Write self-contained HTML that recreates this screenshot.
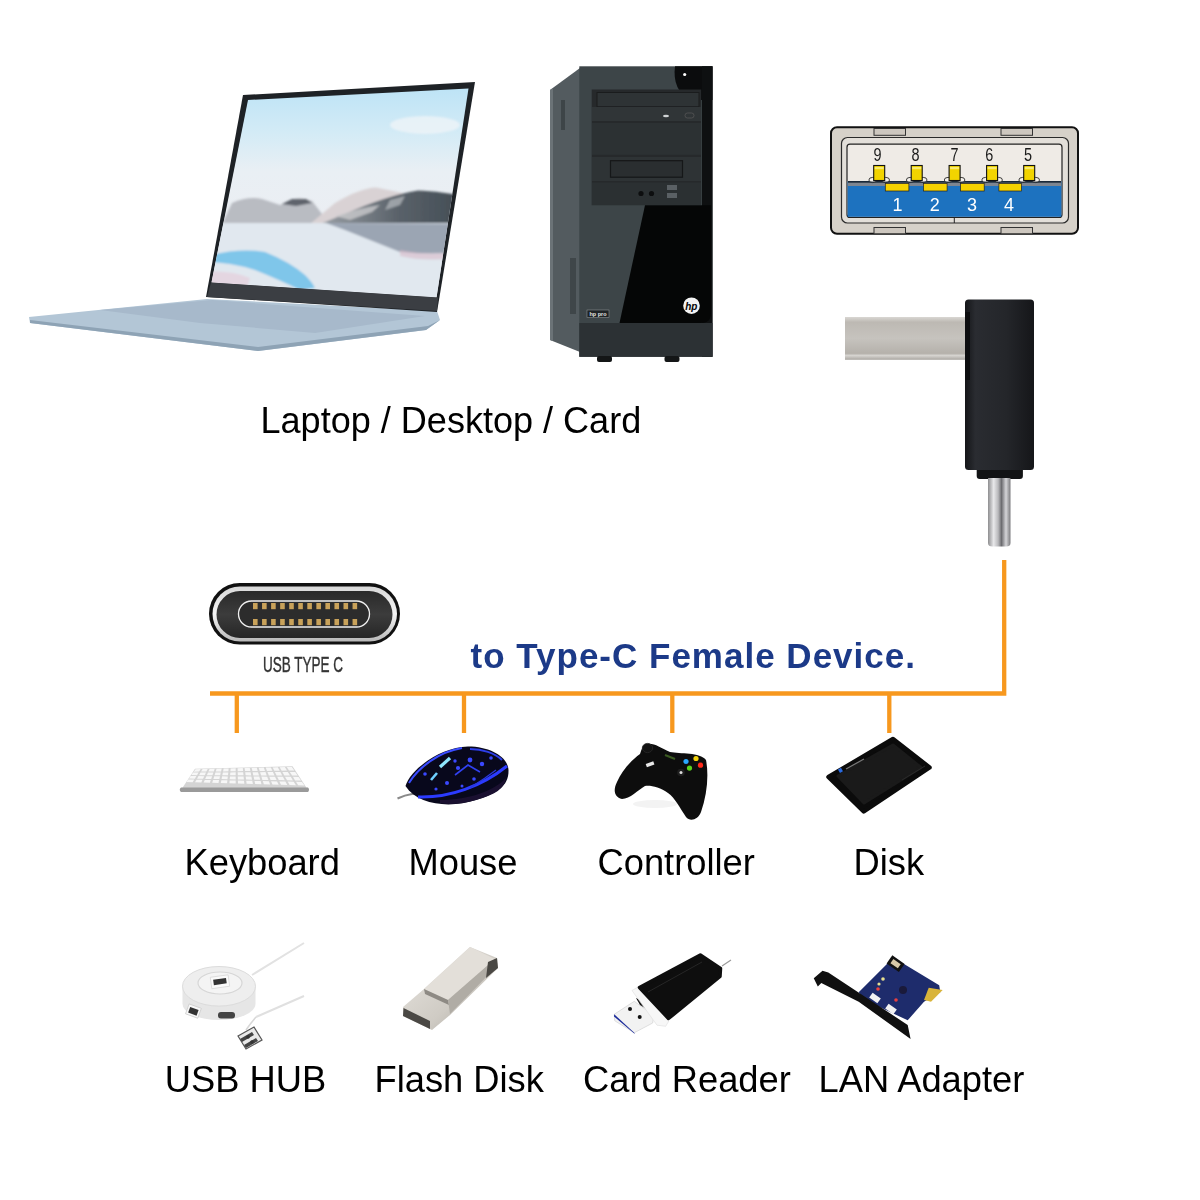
<!DOCTYPE html>
<html><head><meta charset="utf-8">
<style>
html,body{margin:0;padding:0;background:#fff;}
body{width:1200px;height:1200px;overflow:hidden;position:relative;}
svg{position:absolute;left:0;top:0;}
.lbl{font-family:"Liberation Sans",sans-serif;font-size:36.3px;fill:#000;}
</style></head>
<body>
<svg width="1200" height="1200" viewBox="0 0 1200 1200">
<defs>
  <linearGradient id="sky" x1="0" y1="0" x2="0" y2="1">
    <stop offset="0" stop-color="#a9d3ee"/>
    <stop offset="0.45" stop-color="#e9eef3"/>
    <stop offset="1" stop-color="#eef1f5"/>
  </linearGradient>

  <linearGradient id="plugSilver" x1="0" y1="0" x2="0" y2="1">
    <stop offset="0" stop-color="#d9d7d3"/>
    <stop offset="0.12" stop-color="#bdb9b3"/>
    <stop offset="0.5" stop-color="#c6c3be"/>
    <stop offset="0.85" stop-color="#b5b1ab"/>
    <stop offset="0.9" stop-color="#d6d4d0"/>
    <stop offset="1" stop-color="#a9a6a1"/>
  </linearGradient>
  <linearGradient id="adBody" x1="0" y1="0" x2="1" y2="0">
    <stop offset="0" stop-color="#141518"/>
    <stop offset="0.15" stop-color="#2a2c31"/>
    <stop offset="0.6" stop-color="#24262a"/>
    <stop offset="1" stop-color="#151619"/>
  </linearGradient>
  <linearGradient id="pinSilver" x1="0" y1="0" x2="1" y2="0">
    <stop offset="0" stop-color="#8d8d8f"/>
    <stop offset="0.25" stop-color="#e8e8ea"/>
    <stop offset="0.45" stop-color="#b9b9bc"/>
    <stop offset="0.6" stop-color="#6c6c70"/>
    <stop offset="0.8" stop-color="#d5d5d8"/>
    <stop offset="1" stop-color="#7a7a7d"/>
  </linearGradient>

  <linearGradient id="ringGrad" x1="0" y1="0" x2="0" y2="1">
    <stop offset="0" stop-color="#d8d8d8"/>
    <stop offset="0.5" stop-color="#f4f4f4"/>
    <stop offset="1" stop-color="#b8b8b8"/>
  </linearGradient>
  <linearGradient id="portDark" x1="0" y1="0" x2="0" y2="1">
    <stop offset="0" stop-color="#2a2a2a"/>
    <stop offset="0.5" stop-color="#3c3c3c"/>
    <stop offset="1" stop-color="#262626"/>
  </linearGradient>

  <linearGradient id="mouseGrad" x1="0" y1="0" x2="1" y2="1">
    <stop offset="0" stop-color="#1a1a6a"/>
    <stop offset="0.5" stop-color="#0b0b30"/>
    <stop offset="1" stop-color="#050512"/>
  </linearGradient>
  <linearGradient id="flashGrad" x1="0" y1="0" x2="1" y2="1">
    <stop offset="0" stop-color="#e9e6e1"/>
    <stop offset="0.6" stop-color="#cfcbc4"/>
    <stop offset="1" stop-color="#a6a29b"/>
  </linearGradient>

  <clipPath id="scr"><polygon points="248,100 468.5,88.5 436.5,297.5 211.5,282.5"/></clipPath>
  <linearGradient id="sky2" x1="0" y1="0" x2="0" y2="1">
    <stop offset="0" stop-color="#bce3f6"/>
    <stop offset="0.22" stop-color="#d3ebf6"/>
    <stop offset="0.4" stop-color="#e9eff4"/>
    <stop offset="1" stop-color="#efedf1"/>
  </linearGradient>
  <linearGradient id="water" x1="0" y1="0" x2="0" y2="1">
    <stop offset="0" stop-color="#dfe3e8"/>
    <stop offset="1" stop-color="#e8ecf2"/>
  </linearGradient>
  <linearGradient id="mtnDark" x1="0" y1="0" x2="1" y2="0">
    <stop offset="0" stop-color="#9aa0a6"/>
    <stop offset="0.5" stop-color="#5a626a"/>
    <stop offset="1" stop-color="#3e4850"/>
  </linearGradient>
  <filter id="blur1" x="-10%" y="-10%" width="120%" height="120%"><feGaussianBlur stdDeviation="0.9"/></filter>
  <filter id="blur05" x="-10%" y="-10%" width="120%" height="120%"><feGaussianBlur stdDeviation="0.5"/></filter>
</defs>

<!-- LAPTOP -->
<g id="laptop">
  <polygon points="29,317 207,299 437,311 440,320 426,330 258,351 30,323" fill="#b3c6d6"/>
  <polygon points="30,320 258,347 428,326 440,320 426,330 258,351 30,323" fill="#8ea3b5"/>
  <polygon points="100,310 212,300 425,316 315,333 200,323" fill="#a7b9cb"/>
  
  <polygon points="243,95 475,82 437,312 206,297" fill="#1e2226"/>
  <g clip-path="url(#scr)">
    <rect x="205" y="85" width="270" height="215" fill="url(#sky2)"/>
    <g filter="url(#blur1)">
    <ellipse cx="425" cy="125" rx="35" ry="9" fill="#eef4f8" opacity="0.8"/>
    <path d="M222 224 L232 203 Q248 196 262 199 L280 205 L290 200 Q300 196 312 201 L322 214 L330 224 Z" fill="#b9bcc2"/>
    <path d="M282 204 L292 199 L306 199 L312 203 L296 206 Z" fill="#5e646c"/>
    <path d="M310 224 L335 203 Q360 188 376 187.5 L398 192 L420 198 L330 224 Z" fill="#d9d2d4"/>
    <path d="M320 224 L345 214 Q385 196 418 190.5 Q440 191 475 198 L475 226 Z" fill="url(#mtnDark)"/>
    <path d="M335 216 Q360 208 380 205 L372 212 L350 220 Z" fill="#c9c9cc" opacity="0.8"/>
    <path d="M390 200 L405 196 L400 205 L385 210 Z" fill="#b8bcc0" opacity="0.7"/>
    <rect x="205" y="223" width="270" height="80" fill="#e1e8ef"/>
    <path d="M326 223 L475 224 L470 250 Q440 256 400 252 Q370 240 345 230 Z" fill="#8a94a4" opacity="0.8"/>
    <path d="M400 250 Q430 256 455 252 L455 258 Q425 262 400 256 Z" fill="#d9b9c8" opacity="0.6"/>
    <path d="M212 255 Q240 248 265 252 Q290 262 305 275 Q312 282 315 288 L300 290 Q280 280 255 270 Q230 262 205 262 Z" fill="#67bde9" opacity="0.8"/>
    <path d="M205 272 Q230 270 250 278 L246 292 L205 292 Z" fill="#e6cfdc" opacity="0.7"/>
    </g>
  </g>
  <polygon points="211,282.5 438,297.5 437,311 207,297" fill="#3b3e43"/>
</g>

<!-- PC -->
<g id="pc">
  <polygon points="550,90 580,68 580,352 550,340" fill="#535b5f"/>
  <polygon points="550,90 553,88 553,341 550,340" fill="#6b7377"/>
  <rect x="561" y="100" width="4" height="30" fill="#3e4548"/>
  <rect x="570" y="258" width="6" height="56" fill="#3f4649"/>
  <rect x="579.3" y="66.3" width="133.2" height="290.5" fill="#3d4548"/>
  <path d="M675 66.3 H712.5 V100 H690 Q672 90 675 66.3 Z" fill="#0b0c0d"/>
  <rect x="702" y="66.3" width="10.5" height="290.5" fill="#0e1011"/>
  <circle cx="684.7" cy="74.5" r="1.6" fill="#fff"/>
  <rect x="591.7" y="89.5" width="109.5" height="115.7" fill="#26292b"/>
  <rect x="597" y="92.5" width="102" height="14.3" fill="#2e3335" stroke="#1a1c1d" stroke-width="1"/>
  <rect x="592" y="107" width="109" height="14" fill="#303537"/>
  <ellipse cx="666" cy="116" rx="3" ry="1.2" fill="#cfd3d4"/>
  <rect x="685" y="113" width="9" height="5" rx="2.5" fill="none" stroke="#555" stroke-width="0.8"/>
  <rect x="592" y="123" width="109" height="31.8" fill="#2c3133"/>
  <rect x="592" y="157" width="109" height="24" fill="#2e3335"/>
  <rect x="610.5" y="160.7" width="72" height="16.5" fill="#2a2e30" stroke="#151718" stroke-width="1.2"/>
  <rect x="592" y="182.5" width="109" height="22.5" fill="#2b3032"/>
  <circle cx="641" cy="193.5" r="2.6" fill="#0d0e0f"/>
  <circle cx="651.5" cy="193.5" r="2.6" fill="#0d0e0f"/>
  <rect x="667" y="185" width="10" height="5" fill="#5a6064"/>
  <rect x="667" y="193" width="10" height="5" fill="#5a6064"/>
  <path d="M645 205.3 H711 V313 Q711 323 701 323 H619.5 Z" fill="#050606"/>
  <rect x="579.3" y="323" width="133.2" height="33.8" fill="#2c3134"/>
  <rect x="597" y="356" width="15" height="6" rx="2" fill="#141617"/>
  <rect x="664.5" y="356" width="15" height="6" rx="2" fill="#141617"/>
  <circle cx="691.5" cy="305.7" r="8.3" fill="#f4f4f4"/>
  <text x="691.3" y="309.5" text-anchor="middle" style="font-family:'Liberation Sans',sans-serif;font-style:italic;font-weight:bold;font-size:10px;fill:#050606">hp</text>
  <rect x="587" y="310" width="22" height="7.5" fill="#1f2325" stroke="#8a8f92" stroke-width="0.6"/>
  <text x="598" y="316" text-anchor="middle" style="font-family:'Liberation Sans',sans-serif;font-weight:bold;font-size:5.5px;fill:#e6e6e6">hp pro</text>
</g>

<!-- USB-A PINOUT -->
<g id="usba">
  <rect x="831" y="127.2" width="247" height="106.5" rx="6" fill="#d6d1c9" stroke="#111" stroke-width="2"/>
  <rect x="874" y="128.5" width="31.5" height="6.8" fill="#cdc7bf" stroke="#333" stroke-width="1"/>
  <rect x="1001" y="128.5" width="31.5" height="6.8" fill="#cdc7bf" stroke="#333" stroke-width="1"/>
  <rect x="874" y="227.5" width="31.5" height="6.3" fill="#cdc7bf" stroke="#333" stroke-width="1"/>
  <rect x="1001" y="227.5" width="31.5" height="6.3" fill="#cdc7bf" stroke="#333" stroke-width="1"/>
  <rect x="841.5" y="137.5" width="227" height="85.5" rx="6" fill="#e3dfd9" stroke="#2a2a2a" stroke-width="1.2"/>
  <rect x="847" y="144.2" width="215" height="73.2" rx="3" fill="#efebe6" stroke="#222" stroke-width="1.2"/>
  <rect x="847.6" y="181.4" width="213.8" height="35.4" fill="#1d72bf"/>
  <rect x="848" y="181.4" width="213" height="4.6" fill="#7d8590"/>
  <rect x="848" y="181" width="213" height="1.2" fill="#1b2a3a"/>
  <line x1="954.3" y1="217.4" x2="954.3" y2="223" stroke="#222" stroke-width="1"/>
  <g fill="#f4f1ec" stroke="#111" stroke-width="0.8"><ellipse cx="872.70" cy="180" rx="3.8" ry="2.6"/><ellipse cx="885.70" cy="180" rx="3.8" ry="2.6"/><ellipse cx="910.20" cy="180" rx="3.8" ry="2.6"/><ellipse cx="923.20" cy="180" rx="3.8" ry="2.6"/><ellipse cx="948.10" cy="180" rx="3.8" ry="2.6"/><ellipse cx="961.10" cy="180" rx="3.8" ry="2.6"/><ellipse cx="985.60" cy="180" rx="3.8" ry="2.6"/><ellipse cx="998.60" cy="180" rx="3.8" ry="2.6"/><ellipse cx="1022.70" cy="180" rx="3.8" ry="2.6"/><ellipse cx="1035.70" cy="180" rx="3.8" ry="2.6"/></g>
  <rect x="848" y="181.6" width="213" height="1" fill="#1b2a3a"/>
  <g fill="#f2d400" stroke="#111" stroke-width="1.1">
    <rect x="873.70" y="165.5" width="11" height="15"/>
    <rect x="911.20" y="165.5" width="11" height="15"/>
    <rect x="949.10" y="165.5" width="11" height="15"/>
    <rect x="986.60" y="165.5" width="11" height="15"/>
    <rect x="1023.70" y="165.5" width="11" height="15"/>
  </g>
  <g><rect x="874.70" y="167" width="9" height="2.2" fill="#f8ea70"/><rect x="912.20" y="167" width="9" height="2.2" fill="#f8ea70"/><rect x="950.10" y="167" width="9" height="2.2" fill="#f8ea70"/><rect x="987.60" y="167" width="9" height="2.2" fill="#f8ea70"/><rect x="1024.70" y="167" width="9" height="2.2" fill="#f8ea70"/></g>
  <g fill="#f5d200" stroke="#222" stroke-width="0.7">
    <rect x="885.3" y="183.6" width="23.6" height="7.4"/>
    <rect x="923.5" y="183.6" width="23.6" height="7.4"/>
    <rect x="960.6" y="183.6" width="23.6" height="7.4"/>
    <rect x="998.9" y="183.6" width="22.5" height="7.4"/>
  </g>
  <g style="font-family:'Liberation Sans',sans-serif;font-size:17px;fill:#1a1a1a" text-anchor="middle">
    <text transform="translate(877.4 160.6) scale(0.85 1.08)">9</text><text transform="translate(915.6 160.6) scale(0.85 1.08)">8</text><text transform="translate(954.6 160.6) scale(0.85 1.08)">7</text><text transform="translate(989.2 160.6) scale(0.85 1.08)">6</text><text transform="translate(1028.1 160.6) scale(0.85 1.08)">5</text>
  </g>
  <g style="font-family:'Liberation Sans',sans-serif;font-size:18px;fill:#fff" text-anchor="middle">
    <text x="897.6" y="211.3">1</text><text x="934.75" y="211.3">2</text><text x="971.9" y="211.3">3</text><text x="1009" y="211.3">4</text>
  </g>
</g>

<!-- ADAPTER -->
<g id="adapter">
  <rect x="845" y="317" width="121" height="42.8" fill="url(#plugSilver)"/>
  <rect x="976.7" y="466" width="46.2" height="13" rx="3" fill="#121315"/>
  <path d="M988 478 H1010.5 V543 Q1010.5 546.5 1006 546.5 H992.5 Q988 546.5 988 543 Z" fill="url(#pinSilver)"/>
  <rect x="965" y="299.5" width="69" height="170.5" rx="3.5" fill="url(#adBody)"/>
  <rect x="965" y="312" width="5" height="68" fill="#0d0e10"/>
</g>

<!-- TYPE C ICON -->
<g id="typec">
  <rect x="209" y="583" width="191" height="61.5" rx="30.75" fill="#111"/>
  <rect x="212.5" y="586.5" width="184.5" height="55" rx="27.5" fill="url(#ringGrad)"/>
  <rect x="216.5" y="591" width="176" height="47" rx="23.5" fill="url(#portDark)"/>
  <rect x="238.5" y="601" width="131" height="26" rx="13" fill="#2c2c2c" stroke="#f0f0f0" stroke-width="1.3"/>
  <g fill="#c9a25a"><rect x="253.00" y="603" width="4.6" height="6.2"/><rect x="253.00" y="619" width="4.6" height="6.2"/><rect x="262.05" y="603" width="4.6" height="6.2"/><rect x="262.05" y="619" width="4.6" height="6.2"/><rect x="271.10" y="603" width="4.6" height="6.2"/><rect x="271.10" y="619" width="4.6" height="6.2"/><rect x="280.15" y="603" width="4.6" height="6.2"/><rect x="280.15" y="619" width="4.6" height="6.2"/><rect x="289.20" y="603" width="4.6" height="6.2"/><rect x="289.20" y="619" width="4.6" height="6.2"/><rect x="298.25" y="603" width="4.6" height="6.2"/><rect x="298.25" y="619" width="4.6" height="6.2"/><rect x="307.30" y="603" width="4.6" height="6.2"/><rect x="307.30" y="619" width="4.6" height="6.2"/><rect x="316.35" y="603" width="4.6" height="6.2"/><rect x="316.35" y="619" width="4.6" height="6.2"/><rect x="325.40" y="603" width="4.6" height="6.2"/><rect x="325.40" y="619" width="4.6" height="6.2"/><rect x="334.45" y="603" width="4.6" height="6.2"/><rect x="334.45" y="619" width="4.6" height="6.2"/><rect x="343.50" y="603" width="4.6" height="6.2"/><rect x="343.50" y="619" width="4.6" height="6.2"/><rect x="352.55" y="603" width="4.6" height="6.2"/><rect x="352.55" y="619" width="4.6" height="6.2"/></g>
  <text x="303" y="672.4" text-anchor="middle" transform="translate(303 0) scale(0.63 1) translate(-303 0)" style="font-family:'Liberation Sans',sans-serif;font-size:21.5px;fill:#333;stroke:#333;stroke-width:0.4px">USB TYPE C</text>
</g>

<!-- DEVICES ROW 1 -->
<g id="keyboard">
  <polygon points="195,768.8 292.5,766.3 307,788.5 182,788.5" fill="#d4d4d4"/>
  <g fill="#f7f7f7"><polygon points="195.5,769.2 200.7,769.1 199.1,771.6 193.8,771.7"/><polygon points="202.6,769.0 207.7,768.9 206.4,771.6 201.1,771.6"/><polygon points="209.6,768.9 214.7,768.7 213.8,771.5 208.4,771.5"/><polygon points="216.6,768.7 221.7,768.6 221.1,771.4 215.7,771.5"/><polygon points="223.6,768.5 228.7,768.4 228.4,771.3 223.1,771.4"/><polygon points="230.6,768.4 235.7,768.2 235.7,771.2 230.4,771.3"/><polygon points="237.6,768.2 242.8,768.1 243.1,771.1 237.7,771.2"/><polygon points="244.6,768.0 249.8,767.9 250.4,771.1 245.0,771.1"/><polygon points="251.7,767.9 256.8,767.8 257.7,771.0 252.4,771.0"/><polygon points="258.7,767.7 263.8,767.6 265.0,770.9 259.7,771.0"/><polygon points="265.7,767.5 270.8,767.4 272.4,770.8 267.0,770.9"/><polygon points="272.7,767.4 277.8,767.3 279.7,770.7 274.3,770.8"/><polygon points="279.7,767.2 284.8,767.1 287.0,770.6 281.7,770.7"/><polygon points="286.7,767.0 291.9,766.9 294.3,770.6 289.0,770.6"/><polygon points="193.1,772.6 198.5,772.6 197.0,775.2 191.3,775.1"/><polygon points="200.5,772.6 206.0,772.5 204.7,775.2 199.1,775.2"/><polygon points="208.0,772.5 213.4,772.5 212.5,775.2 206.8,775.2"/><polygon points="215.4,772.5 220.8,772.4 220.2,775.3 214.6,775.2"/><polygon points="222.9,772.4 228.3,772.4 228.0,775.3 222.3,775.3"/><polygon points="230.3,772.4 235.7,772.3 235.7,775.3 230.1,775.3"/><polygon points="237.7,772.3 243.2,772.3 243.5,775.3 237.8,775.3"/><polygon points="245.2,772.3 250.6,772.2 251.2,775.4 245.6,775.3"/><polygon points="252.6,772.2 258.0,772.2 259.0,775.4 253.3,775.4"/><polygon points="260.1,772.2 265.5,772.1 266.7,775.4 261.1,775.4"/><polygon points="267.5,772.1 272.9,772.1 274.5,775.5 268.8,775.4"/><polygon points="274.9,772.1 280.4,772.0 282.2,775.5 276.6,775.5"/><polygon points="282.4,772.0 287.8,772.0 290.0,775.5 284.3,775.5"/><polygon points="289.8,771.9 295.2,771.9 297.7,775.5 292.1,775.5"/><polygon points="190.6,776.1 196.4,776.1 194.8,778.7 188.9,778.6"/><polygon points="198.5,776.1 204.3,776.2 203.0,778.8 197.0,778.7"/><polygon points="206.4,776.2 212.1,776.2 211.2,779.0 205.2,778.9"/><polygon points="214.2,776.2 220.0,776.3 219.4,779.1 213.4,779.0"/><polygon points="222.1,776.3 227.8,776.4 227.5,779.3 221.6,779.1"/><polygon points="230.0,776.4 235.7,776.4 235.7,779.4 229.7,779.3"/><polygon points="237.8,776.4 243.6,776.5 243.9,779.5 237.9,779.4"/><polygon points="245.7,776.5 251.4,776.5 252.1,779.7 246.1,779.6"/><polygon points="253.6,776.5 259.3,776.6 260.2,779.8 254.3,779.7"/><polygon points="261.4,776.6 267.2,776.7 268.4,780.0 262.4,779.9"/><polygon points="269.3,776.7 275.0,776.7 276.6,780.1 270.6,780.0"/><polygon points="277.2,776.7 282.9,776.8 284.8,780.2 278.8,780.1"/><polygon points="285.0,776.8 290.8,776.8 292.9,780.4 287.0,780.3"/><polygon points="292.9,776.8 298.6,776.9 301.1,780.5 295.1,780.4"/><polygon points="188.2,779.5 194.2,779.6 192.7,782.2 186.4,782.0"/><polygon points="196.5,779.7 202.5,779.8 201.3,782.5 195.0,782.3"/><polygon points="204.8,779.9 210.8,780.0 209.9,782.7 203.6,782.5"/><polygon points="213.1,780.0 219.1,780.1 218.5,783.0 212.2,782.8"/><polygon points="221.4,780.2 227.4,780.3 227.1,783.2 220.8,783.0"/><polygon points="229.6,780.4 235.7,780.5 235.7,783.5 229.4,783.3"/><polygon points="237.9,780.5 244.0,780.7 244.3,783.7 238.0,783.5"/><polygon points="246.2,780.7 252.3,780.8 252.9,784.0 246.6,783.8"/><polygon points="254.5,780.9 260.6,781.0 261.5,784.2 255.2,784.1"/><polygon points="262.8,781.1 268.9,781.2 270.1,784.5 263.8,784.3"/><polygon points="271.1,781.2 277.1,781.4 278.7,784.7 272.4,784.6"/><polygon points="279.4,781.4 285.4,781.5 287.3,785.0 281.0,784.8"/><polygon points="287.7,781.6 293.7,781.7 295.9,785.3 289.6,785.1"/><polygon points="296.0,781.7 302.0,781.9 304.5,785.5 298.2,785.3"/></g>
  <path d="M181 787.5 H308 Q310 789.7 308 792 H181 Q178.5 789.7 181 787.5 Z" fill="#9a9a9a"/>
</g>
<g id="mouse">
  <path d="M397.5 798.5 Q405 795 412 794 Q420 793 428 788" stroke="#8a8a8a" stroke-width="2.2" fill="none"/>
  <path d="M405.5,786 C410,770 440,747 468,746.5 C492,746.5 508,758 508.5,770 C509,786 497,793 476,800 C452,808 418,806 405.5,786 Z" fill="#08081c"/>
  <path d="M440,800 C470,800 495,790 506,778 C505,788 495,795 476,800 C462,804 450,805 440,803 Z" fill="#1a1030"/>
  <path d="M418,797 C450,798 482,786 507,766" stroke="#2b3bff" stroke-width="3" fill="none"/>
  <path d="M409,783 C418,768 438,752 462,748" stroke="#3a4cff" stroke-width="2" fill="none"/>
  <path d="M440,767 L450,758" stroke="#8fe6ff" stroke-width="3.2"/>
  <path d="M431,780 L437,773" stroke="#6fd0ff" stroke-width="2.6"/>
  <path d="M470,749 C482,749 495,753 502,760" stroke="#2d3ee8" stroke-width="2" fill="none"/>
  <path d="M455,775 L468,765 L480,772" stroke="#3040f0" stroke-width="1.6" fill="none"/>
  <path d="M470,788 L485,778 L496,770" stroke="#2a38d8" stroke-width="1.4" fill="none"/>
  <g fill="#3a48ff">
    <circle cx="470" cy="760" r="2.4"/><circle cx="482" cy="764" r="2.2"/><circle cx="458" cy="768" r="2.1"/>
    <circle cx="491" cy="758" r="1.8"/><circle cx="447" cy="783" r="2"/><circle cx="474" cy="779" r="1.8"/>
    <circle cx="425" cy="774" r="1.8"/><circle cx="455" cy="761" r="1.7"/>
    <circle cx="436" cy="789" r="1.6"/><circle cx="462" cy="786" r="1.5"/>
  </g>
</g>
<g id="controller">
  <ellipse cx="655" cy="804" rx="22" ry="4" fill="#f3f3f3"/>
  <path d="M647,744 C655,743 660,748 670,752 C680,754 700,752 706,760 C709,775 707,795 701,812 C698,820 690,822 686,817 C680,808 675,798 668,793 C660,787 650,785 645,786 C638,790 630,799 622,799 C614,797 613,790 617,782 C622,770 632,760 640,754 C642,748 643,745 647,744 Z" fill="#0d0d0d"/>
  <ellipse cx="647.5" cy="748" rx="5.2" ry="4.6" fill="#121212" stroke="#2a2a2a" stroke-width="0.8"/>
  <rect x="646" y="762.5" width="8" height="3.4" fill="#e8e8e8" transform="rotate(-20 650 764)"/>
  <circle cx="681" cy="772.5" r="3.8" fill="#1e1e1e"/>
  <circle cx="681" cy="772.5" r="1.5" fill="#ddd"/>
  <circle cx="696" cy="758.5" r="2.6" fill="#f1d20a"/>
  <circle cx="686" cy="761.5" r="2.6" fill="#2aa8ff"/>
  <circle cx="700.5" cy="765.2" r="2.6" fill="#ff2a1a"/>
  <circle cx="689.5" cy="768.1" r="2.6" fill="#5bd11a"/>
  <path d="M665 755 L675 759" stroke="#3a5a20" stroke-width="2"/>
</g>
<g id="disk">
  <polygon points="828.5,777 893,739 929.5,767.5 863.75,811.5" fill="#0b0b0b" stroke="#0b0b0b" stroke-width="4.5" stroke-linejoin="round"/>
  <polygon points="838,776 893,745 921,767.5 864,803" fill="#1a1a1a" stroke="#1a1a1a" stroke-width="3" stroke-linejoin="round"/>
  <rect x="838.5" y="768.5" width="3.5" height="4" fill="#2a6ae0" transform="rotate(-30 840 770)"/>
  <line x1="846" y1="769" x2="864" y2="759" stroke="#777" stroke-width="1.3"/>
  <line x1="902" y1="780" x2="925" y2="766" stroke="#2a2a2a" stroke-width="1"/>
</g>

<!-- DEVICES ROW 2 -->
<g id="hub">
  <path d="M252 975 L304 943" stroke="#e2e2e2" stroke-width="2" fill="none"/>
  <path d="M256 1017 L304 996" stroke="#e0e0e0" stroke-width="2" fill="none"/>
  <path d="M182.5 986 V1004 A36.5 16 0 0 0 255.5 1004 V986 Z" fill="#e6e6e6"/>
  <ellipse cx="219" cy="986.3" rx="36.5" ry="19.8" fill="#eeeeee" stroke="#dcdcdc" stroke-width="1"/>
  <ellipse cx="220" cy="983" rx="22" ry="11" fill="#f4f4f4" stroke="#d6d6d6" stroke-width="1.2"/>
  <rect x="211" y="976" width="18" height="11.5" fill="#fafafa" stroke="#d8d8d8" stroke-width="0.8" transform="rotate(-8 220 982)"/>
  <rect x="213.5" y="978.8" width="13" height="5.5" fill="#333" transform="rotate(-8 220 982)"/>
  <rect x="187" y="1006" width="13" height="10.5" fill="#f8f8f8" stroke="#cfcfcf" stroke-width="0.8" transform="rotate(20 194 1011)"/>
  <rect x="189" y="1008.5" width="9" height="6" fill="#333" transform="rotate(20 194 1011)"/>
  <rect x="218" y="1012" width="17" height="6.5" rx="3" fill="#444"/>
  <g>
    <path d="M256 1017 Q250 1024 246 1030" stroke="#d8d8d8" stroke-width="1.6" fill="none"/>
    <polygon points="238,1036 254,1027 262,1040 246,1049" fill="#e9e9e9" stroke="#555" stroke-width="1.2"/>
    <polygon points="240,1039 252,1032 254,1035 242,1042" fill="#444"/>
    <polygon points="244,1045 256,1038 258,1041 246,1048" fill="#444"/>
    <circle cx="248" cy="1037" r="1.8" fill="#333"/><circle cx="252" cy="1042" r="1.8" fill="#333"/>
  </g>
</g>
<g id="flash">
  <polygon points="403,1007 424,989 470,947 497,958 498,968 450,1015 432,1030 403,1016" fill="url(#flashGrad)"/>
  <polygon points="424,989 470,947 495,959 448,1000" fill="#e3dfd9"/>
  <polygon points="424,989 448,1000 449,1005 425,994" fill="#8e8a84"/>
  <polygon points="448,1000 495,959 497,966 450,1014" fill="#b0aca5"/>
  <polygon points="488,962 497,958 498,968 486,978" fill="#4a4844"/>
  <polygon points="403.5,1008 430,1021 430,1029 403,1016" fill="#4a4844"/>
</g>
<g id="cardreader">
  <line x1="722" y1="966" x2="731" y2="960" stroke="#999" stroke-width="1.2"/>
  <polygon points="614.2,1014.3 634.25,1001.3 653.75,1015.4 652.7,1023 634.25,1032.75 614.75,1020.8" fill="#f2f2f2" stroke="#ccc" stroke-width="0.6"/>
  <polygon points="614.2,1014.3 634.25,1032.75 634.8,1034 614,1016.5" fill="#1a2a9a"/>
  <circle cx="630" cy="1009" r="2" fill="#111"/>
  <circle cx="639.7" cy="1017" r="2" fill="#111"/>
  <polygon points="636,998 646,1002 650,1011 640,1005" fill="#111"/>
  <polygon points="632,990.5 638.6,986.7 668.9,1020.8 665.7,1026.3 657,1025.2" fill="#f7f7f7" stroke="#ddd" stroke-width="0.6"/>
  <polygon points="639.5,987.5 700.3,955 720.5,968.5 720,976.5 668.5,1018.5" fill="#0e0e0e" stroke="#0e0e0e" stroke-width="3.5" stroke-linejoin="round"/>
  <line x1="648" y1="992" x2="702" y2="962" stroke="#262626" stroke-width="1"/>
</g>
<g id="lan">
  <polygon points="858.7,992.3 893.7,957.3 900.7,962 939.2,985.3 940.3,992.3 924,1001.7 907.7,1020.3 865.7,1000.5" fill="#1e2c6c"/>
  <polygon points="928.7,987.7 942.7,990 931,1001.7 924,1000" fill="#d9b43a"/>
  <rect x="888" y="959" width="15" height="10" fill="#111" transform="rotate(35 896 964)"/>
  <rect x="891" y="961.5" width="9" height="5" fill="#d8c9a8" transform="rotate(35 896 964)"/>
  <rect x="870" y="995" width="10" height="6" fill="#f2f2f2" transform="rotate(35 875 998)"/>
  <rect x="886" y="1006" width="10" height="6" fill="#f2f2f2" transform="rotate(35 891 1009)"/>
  <circle cx="903" cy="990" r="4" fill="#1a1a3a"/>
  <circle cx="883" cy="979" r="1.8" fill="#e8e090"/>
  <circle cx="879" cy="984" r="1.6" fill="#e8e090"/>
  <circle cx="878" cy="989" r="1.8" fill="#e84040"/>
  <circle cx="896" cy="1000" r="1.8" fill="#e84040"/>
  <polygon points="813.75,978.3 822.5,970.75 828.3,972.5 907.7,1025 910.6,1039 858.7,1001.7 821.3,983 817.8,986.5" fill="#101010"/>
</g>
<!-- ORANGE LINES -->
<g stroke="#f7981e" stroke-width="4.3" fill="none">
  <path d="M210 693.5 H1004.2 V560"/>
  <path d="M236.8 693.5 V733"/>
  <path d="M464 693.5 V733"/>
  <path d="M672.3 693.5 V733"/>
  <path d="M889.3 693.5 V733"/>
</g>

<!-- TEXTS -->
<text class="lbl" x="260.5" y="433" style="font-size:36.05px">Laptop / Desktop / Card</text>
<text x="470.5" y="668" style="font-family:'Liberation Sans',sans-serif;font-weight:bold;font-size:35px;letter-spacing:1px;fill:#1c3a88">to Type-C Female Device.</text>
<text class="lbl" x="184.5" y="875.3">Keyboard</text>
<text class="lbl" x="408.5" y="875.3">Mouse</text>
<text class="lbl" x="597.5" y="875.3">Controller</text>
<text class="lbl" x="853.5" y="875.3">Disk</text>
<text class="lbl" x="164.8" y="1092">USB HUB</text>
<text class="lbl" x="374.5" y="1092">Flash Disk</text>
<text class="lbl" x="583" y="1092">Card Reader</text>
<text class="lbl" x="818.5" y="1092">LAN Adapter</text>
</svg>
</body></html>
